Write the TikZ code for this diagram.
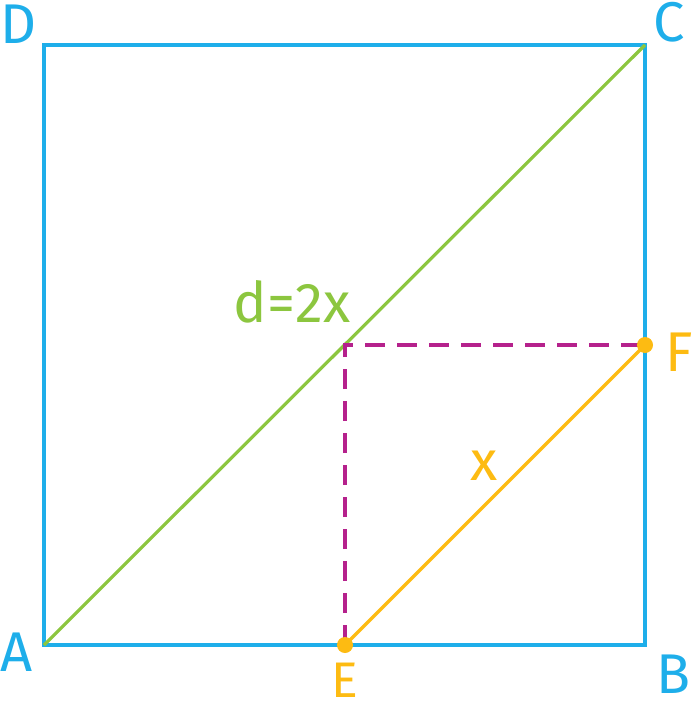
\documentclass[tikz,border=0pt]{standalone}
\usepackage{fontspec}
\setmainfont{Fira Sans}
\definecolor{sqblue}{HTML}{1EAEEA}
\definecolor{dgreen}{HTML}{8CC63F}
\definecolor{dmag}{HTML}{B5218C}
\definecolor{dorange}{HTML}{FDBB12}
\begin{document}
\begin{tikzpicture}[x=1pt,y=-1pt,
  lbl/.style={font=\fontsize{56}{64}\selectfont,inner sep=1pt},
  bluelbl/.style={lbl,text=sqblue},
  side/.style={draw=sqblue,line width=4pt},
  diag/.style={draw=dgreen,line width=3.2pt},
  helper/.style={draw=dmag,line width=3.5pt,dash pattern=on 20pt off 12pt},
  seg/.style={draw=dorange,line width=3.5pt},
  dotpt/.style={circle,fill=dorange,inner sep=0pt,minimum size=16pt}]
\useasboundingbox (0,0) rectangle (697,711);
\coordinate (A) at (44,645);
\coordinate (B) at (645,645);
\coordinate (C) at (645,45);
\coordinate (D) at (44,45);
\coordinate (M) at (345,345);
\coordinate (E) at (345,645);
\coordinate (F) at (645,345);
\draw[side] (A) -- (B) -- (C) -- (D) -- cycle;
\draw[diag] (A) -- (C);
\draw[helper] (E) -- (M) -- (F);
\draw[seg] (E) -- (F);
\node[dotpt] (Edot) at (E) {};
\node[dotpt] (Fdot) at (F) {};
\node[bluelbl] (lA) at (17,652) {A};
\node[bluelbl] (lB) at (674,674) {B};
\node[bluelbl] (lC) at (669,22) {C};
\node[bluelbl] (lD) at (19,24) {D};
\node[lbl,text=dorange,font=\fontsize{50}{58}\selectfont] (lE) at (345,680) {E};
\node[lbl,text=dorange] (lF) at (679,352) {F};
\node[lbl,text=dgreen] (ld) at (292,302) {d=2x};
\node[lbl,text=dorange] (lx) at (484,466) {x};
\end{tikzpicture}
\end{document}
